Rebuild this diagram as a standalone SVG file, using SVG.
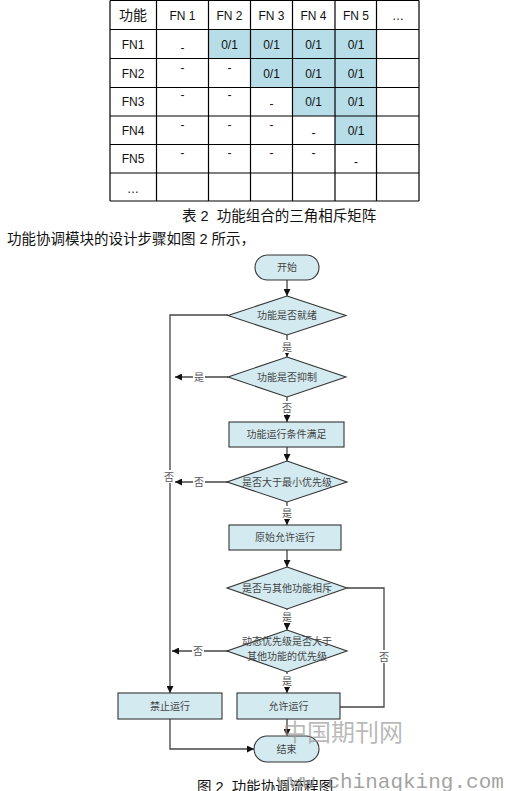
<svg xmlns="http://www.w3.org/2000/svg" width="508" height="791" viewBox="0 0 508 791">
<style>
.bg{fill:#ffffff}
.grid{stroke:#000;stroke-width:1.2;fill:none}
.shade{fill:#b7dde8}
.tt{font-family:"Liberation Sans","Noto Sans CJK SC",sans-serif;font-size:12px;fill:#111;text-anchor:middle}
.th{font-family:"Noto Sans CJK SC",sans-serif;font-size:14px;fill:#111;text-anchor:middle}
.cap{font-family:"Liberation Sans","Noto Sans CJK SC",sans-serif;font-size:14.5px;fill:#111;white-space:pre}
.shape{fill:#d3eaf0;stroke:#333;stroke-width:1.1}
.lbl{font-family:"Noto Sans CJK SC",sans-serif;font-size:10px;fill:#444;text-anchor:middle}
.edge{stroke:#444;stroke-width:1.3;fill:none}
.el{font-family:"Noto Sans CJK SC",sans-serif;font-size:10px;fill:#555;text-anchor:middle}
.wm{font-family:"Noto Sans CJK SC",serif;font-size:24px;fill:#9a9a9a;fill-opacity:0.7}
.wm2{font-family:"Liberation Mono",monospace;font-size:21px;fill:#8a8a8a;fill-opacity:0.8}
</style>
<defs>
<marker id="arr" viewBox="0 0 10 10" refX="10" refY="5" markerWidth="7" markerHeight="7" markerUnits="userSpaceOnUse" orient="auto">
<path d="M0,0 L10,5 L0,10 z" fill="#111"/>
</marker>
</defs>
<rect class="bg" x="0" y="0" width="508" height="791"/>

<g id="table">
<rect class="shade" x="208.5" y="29.5" width="168" height="29"/>
<rect class="shade" x="250.5" y="58.5" width="126" height="29"/>
<rect class="shade" x="292.5" y="87.5" width="84" height="28.5"/>
<rect class="shade" x="335" y="116" width="41.5" height="28.5"/>
<path class="grid" d="M110,0.5H419 M110,29.5H419 M110,58.5H419 M110,87.5H419 M110,116H419 M110,144.5H419 M110,173H419 M110,201H419 M110,0.5V201 M156.5,0.5V201 M208.5,0.5V201 M250.5,0.5V201 M292.5,0.5V201 M335,0.5V201 M376.5,0.5V201 M419,0.5V201"/>
<text class="th" x="133" y="20">功能</text>
<text class="tt" x="182.5" y="20">FN 1</text>
<text class="tt" x="229.5" y="20">FN 2</text>
<text class="tt" x="271.5" y="20">FN 3</text>
<text class="tt" x="313.5" y="20">FN 4</text>
<text class="tt" x="356" y="20">FN 5</text>
<text class="tt" x="398" y="20">…</text>
<text class="tt" x="133" y="49">FN1</text>
<text class="tt" x="133" y="78">FN2</text>
<text class="tt" x="133" y="106">FN3</text>
<text class="tt" x="133" y="135">FN4</text>
<text class="tt" x="133" y="163">FN5</text>
<text class="tt" x="133" y="193">…</text>
<text class="tt" x="182.5" y="52">-</text>
<text class="tt" x="229.5" y="49">0/1</text>
<text class="tt" x="271.5" y="49">0/1</text>
<text class="tt" x="313.5" y="49">0/1</text>
<text class="tt" x="356" y="49">0/1</text>
<text class="tt" x="182.5" y="72">-</text>
<text class="tt" x="229.5" y="72">-</text>
<text class="tt" x="271.5" y="78">0/1</text>
<text class="tt" x="313.5" y="78">0/1</text>
<text class="tt" x="356" y="78">0/1</text>
<text class="tt" x="182.5" y="99">-</text>
<text class="tt" x="229.5" y="99">-</text>
<text class="tt" x="271.5" y="108">-</text>
<text class="tt" x="313.5" y="106">0/1</text>
<text class="tt" x="356" y="106">0/1</text>
<text class="tt" x="182.5" y="129">-</text>
<text class="tt" x="229.5" y="129">-</text>
<text class="tt" x="271.5" y="129">-</text>
<text class="tt" x="313.5" y="137">-</text>
<text class="tt" x="356" y="135">0/1</text>
<text class="tt" x="182.5" y="157">-</text>
<text class="tt" x="229.5" y="157">-</text>
<text class="tt" x="271.5" y="157">-</text>
<text class="tt" x="313.5" y="157">-</text>
<text class="tt" x="356" y="166">-</text>
</g>

<g id="captions">
<text class="cap" x="182" y="221">表 2  功能组合的三角相斥矩阵</text>
<text class="cap" x="7" y="244">功能协调模块的设计步骤如图 2 所示，</text>
</g>

<g id="connectors">
<path class="edge" d="M287,280V296" marker-end="url(#arr)"/>
<path class="edge" d="M287,335V357" marker-end="url(#arr)"/>
<path class="edge" d="M287,397V422" marker-end="url(#arr)"/>
<path class="edge" d="M287,447V461" marker-end="url(#arr)"/>
<path class="edge" d="M287,502V525" marker-end="url(#arr)"/>
<path class="edge" d="M287,550V567" marker-end="url(#arr)"/>
<path class="edge" d="M287,609V630" marker-end="url(#arr)"/>
<path class="edge" d="M287,672V693" marker-end="url(#arr)"/>
<path class="edge" d="M228,315H170V693" marker-end="url(#arr)"/>
<path class="edge" d="M228,377H175" marker-end="url(#arr)"/>
<path class="edge" d="M228,482H175" marker-end="url(#arr)"/>
<path class="edge" d="M228,651H172" marker-end="url(#arr)"/>
<path class="edge" d="M347,588H384V707H340"/>
<path class="edge" d="M170,719V749H254" marker-end="url(#arr)"/>
<path class="edge" d="M287,719V736" marker-end="url(#arr)"/>
<g>
<rect x="281" y="340" width="12" height="13" fill="#fff"/>
<text class="el" x="287" y="351">是</text>
<rect x="281" y="401" width="12" height="13" fill="#fff"/>
<text class="el" x="287" y="412">否</text>
<rect x="281" y="506" width="12" height="13" fill="#fff"/>
<text class="el" x="287" y="517">是</text>
<rect x="281" y="610" width="12" height="13" fill="#fff"/>
<text class="el" x="287" y="621">是</text>
<rect x="281" y="674" width="12" height="13" fill="#fff"/>
<text class="el" x="287" y="685">是</text>
<rect x="193" y="370" width="12" height="13" fill="#fff"/>
<text class="el" x="199" y="381">是</text>
<rect x="193" y="475" width="12" height="13" fill="#fff"/>
<text class="el" x="199" y="486">否</text>
<rect x="192" y="644" width="12" height="13" fill="#fff"/>
<text class="el" x="198" y="655">否</text>
<rect x="163" y="470" width="12" height="13" fill="#fff"/>
<text class="el" x="169" y="481">否</text>
<rect x="378" y="650" width="12" height="13" fill="#fff"/>
<text class="el" x="384" y="661">否</text>
</g>
</g>

<g id="start">
<rect class="shape" x="255" y="255" width="64" height="25" rx="12.5"/>
<text class="lbl" x="287" y="271">开始</text>
</g>
<g id="d1">
<polygon class="shape" points="287,296 346,315.5 287,335 228,315.5"/>
<text class="lbl" x="287" y="319">功能是否就绪</text>
</g>
<g id="d2">
<polygon class="shape" points="287,357 346,377 287,397 228,377"/>
<text class="lbl" x="287" y="380.5">功能是否抑制</text>
</g>
<g id="b1">
<rect class="shape" x="229" y="422" width="115" height="25"/>
<text class="lbl" x="286.5" y="438">功能运行条件满足</text>
</g>
<g id="d3">
<polygon class="shape" points="287,461 347,482 287,502 227,482"/>
<text class="lbl" x="287" y="485.5">是否大于最小优先级</text>
</g>
<g id="b2">
<rect class="shape" x="229" y="525" width="112" height="25"/>
<text class="lbl" x="285" y="541">原始允许运行</text>
</g>
<g id="d4">
<polygon class="shape" points="287,567 347,588 287,609 227,588"/>
<text class="lbl" x="287" y="591.5">是否与其他功能相斥</text>
</g>
<g id="d5">
<polygon class="shape" points="287,630 347,651 287,672 227,651"/>
<text class="lbl" x="287" y="645">动态优先级是否大于</text>
<text class="lbl" x="287" y="660">其他功能的优先级</text>
</g>
<g id="forbid">
<rect class="shape" x="118" y="693" width="104" height="26"/>
<text class="lbl" x="170" y="709.5">禁止运行</text>
</g>
<g id="allow">
<rect class="shape" x="237" y="693" width="103" height="26"/>
<text class="lbl" x="288.5" y="709.5">允许运行</text>
</g>
<g id="end">
<rect class="shape" x="254" y="736" width="65" height="26" rx="13"/>
<text class="lbl" x="286.5" y="752.5">结束</text>
</g>

<g id="figcap">
<text class="cap" x="197" y="792">图 2  功能协调流程图</text>
</g>
<g id="watermark">
<text class="wm" x="283" y="741">中国期刊网</text>
<text class="wm2" x="277" y="788">www.chinaqking.com</text>
</g>
</svg>
